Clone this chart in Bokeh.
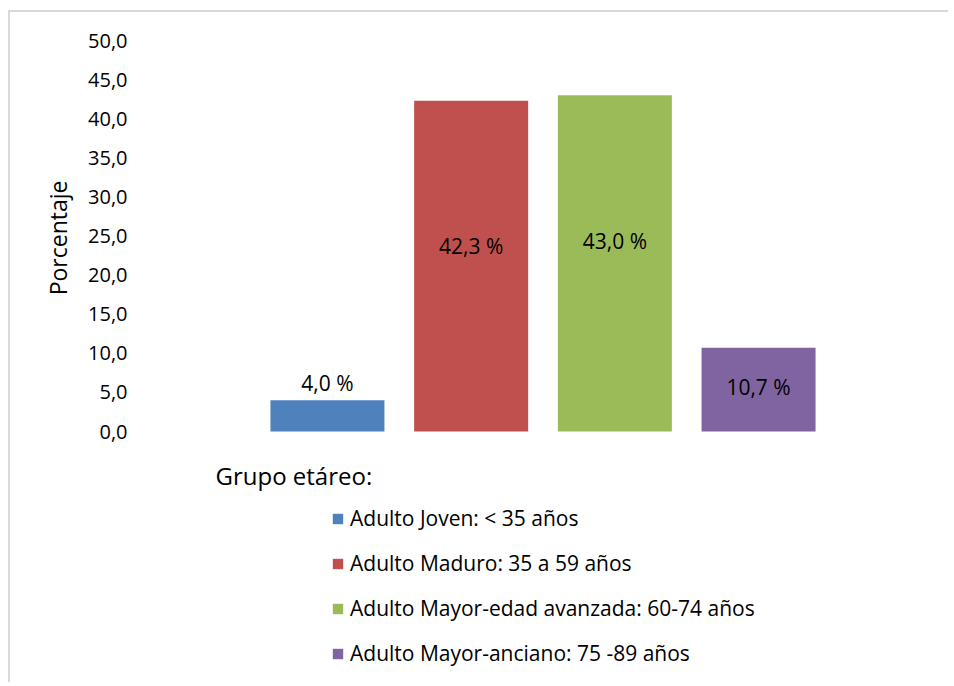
from bokeh.plotting import figure
from bokeh.models import (Range1d, FixedTicker, CustomJSTickFormatter, Legend, LegendItem,
                          Label, ColumnDataSource, Title)
from bokeh.core.properties import value
from bokeh.embed import file_html
from bokeh.resources import INLINE

# ---- data ----
categories = ["Adulto Joven: < 35 años",
              "Adulto Maduro: 35 a 59 años",
              "Adulto Mayor-edad avanzada: 60-74 años",
              "Adulto Mayor-anciano: 75 -89 años"]
values = [4.0, 42.3, 43.0, 10.7]
bar_labels = ["4,0 %", "42,3 %", "43,0 %", "10,7 %"]
y_ticks = [0, 5, 10, 15, 20, 25, 30, 35, 40, 45, 50]
legend_title = "Grupo etáreo:"
y_title = "Porcentaje"

# ---- styles ----
colors = ["#4F81BD", "#C0504D", "#9BBB59", "#8064A2"]
label_offsets_px = [-17, 145, 146, 39]   # label position relative to bar top (px, down positive)
FONT = "Open Sans"
FS = "20px"

W, H = 940, 672
FRAME_TOP = 28
PX_PER_UNIT = 7.82
frame_h = H - FRAME_TOP
y_min = 50 - frame_h / PX_PER_UNIT

xs = list(range(len(values)))
src = ColumnDataSource(dict(x=xs, top=values, color=colors, name=categories,
                            lab=bar_labels, off=label_offsets_px))

p = figure(width=W, height=H, output_backend="svg", toolbar_location=None,
           x_range=Range1d(-1.294, 3 + 1.294), y_range=Range1d(y_min, 50),
           min_border_left=131, min_border_right=6, min_border_top=FRAME_TOP, min_border_bottom=0)
p.styles = {"border-top": "2px solid #d9d9d9", "border-left": "2px solid #d9d9d9",
            "margin-top": "10px", "margin-left": "8px"}
p.outline_line_color = None
p.xgrid.visible = False
p.ygrid.visible = False
p.xaxis.visible = False

ax = p.yaxis[0]
ax.ticker = FixedTicker(ticks=y_ticks)
ax.formatter = CustomJSTickFormatter(code="return tick.toFixed(1).replace('.', ',');")
ax.axis_line_color = None
ax.major_tick_line_color = None
ax.minor_tick_line_color = None
ax.major_tick_out = 0
ax.major_label_standoff = 14
ax.major_label_text_font = FONT
ax.major_label_text_font_size = FS
ax.major_label_text_color = "#000000"

p.add_layout(Title(text=y_title, align="right", offset=140, standoff=24,
                   text_font=FONT, text_font_size="23px", text_font_style="normal",
                   text_color="#000000"), "left")

renderers = []
for i in range(len(values)):
    r = p.vbar(x=[xs[i]], top=[values[i]], bottom=0, width=114 / 143.7,
               fill_color=colors[i], line_color=None)
    renderers.append(r)

p.text(x="x", y="top", text="lab", y_offset="off", source=src,
       text_font=value(FONT), text_font_size="21px", text_color="#000000",
       text_align="center", text_baseline="middle")

legend = Legend(items=[LegendItem(label=categories[i], renderers=[renderers[i]]) for i in range(4)],
                location=(190, 17), orientation="vertical",
                glyph_width=13, glyph_height=13, label_standoff=6,
                label_height=20, spacing=17, padding=0, margin=0,
                border_line_color=None, background_fill_alpha=0,
                label_text_font=FONT, label_text_font_size="21px", label_text_color="#000000")
p.add_layout(legend, "center")

p.add_layout(Label(x=74, y=209, x_units="screen", y_units="screen", text=legend_title,
                   text_font=FONT, text_font_size="24px", text_color="#000000",
                   text_baseline="middle"))

open("out.html", "w").write(file_html(p, INLINE))
